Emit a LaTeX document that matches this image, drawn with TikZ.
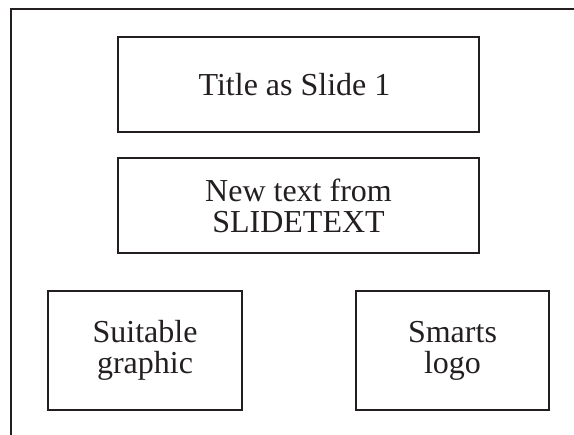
\documentclass[tikz,border=0pt]{standalone}
\usepackage{fontspec}
\setmainfont{Liberation Serif}
\usepackage{tikz}
\usetikzlibrary{positioning}
\definecolor{ink}{HTML}{231F20}
\tikzset{
    slidebox/.style={rectangle, draw=ink, line width=1.6pt, inner sep=0pt,
        align=center, text=ink, font=\fontsize{32}{31}\selectfont},
}

\begin{document}
\begin{tikzpicture}[x=1pt, y=-1pt]
    \useasboundingbox (0,0) rectangle (574,435);
    % slide frame, cut off at right and bottom
    \draw[ink, line width=1.6pt] (11,435) -- (11,9) -- (574,9);
    \path
        node (title) at (298.5,84.5) [slidebox, minimum width=361pt, minimum height=95pt] { Title as Slide 1 }
        node (text)  at (298.5,205.5) [slidebox, minimum width=361pt, minimum height=95pt] { New text from\\SLIDETEXT };
    \path
        node (graphic) at (145,350.5) [slidebox, minimum width=194pt, minimum height=119pt] { Suitable\\graphic }
        node (logo)    at (452.5,350.5) [slidebox, minimum width=193pt, minimum height=119pt] { Smarts\\logo };
\end{tikzpicture}
\end{document}
